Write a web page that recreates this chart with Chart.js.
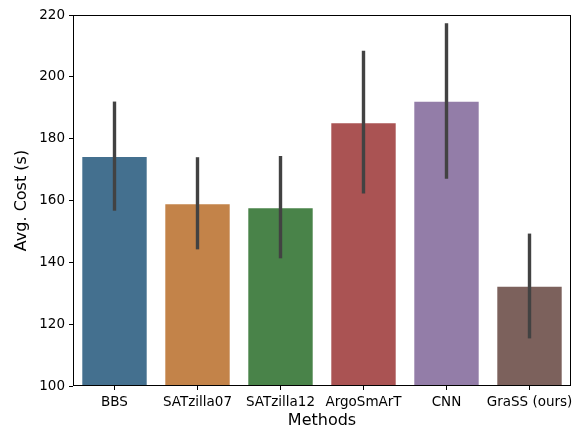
<!DOCTYPE html>
<html>
<head>
<meta charset="utf-8">
<script src="https://cdn.jsdelivr.net/npm/chart.js@4/dist/chart.umd.min.js"></script>
<style>
  html, body { margin: 0; padding: 0; background: #fff; }
  #wrap { width: 579px; height: 429px; position: relative; }
</style>
</head>
<body>
<div id="wrap"><canvas id="cost-chart"></canvas></div>
<script>
// values
var methods = ['BBS', 'SATzilla07', 'SATzilla12', 'ArgoSmArT', 'CNN', 'GraSS (ours)'];
var avgCost = [174.4, 159.1, 157.8, 185.3, 192.3, 132.4];
var ciLow = [156.7, 144.2, 141.3, 162.3, 167.0, 115.4];
var ciHigh = [192.0, 174.0, 174.4, 208.4, 217.3, 149.3];
var yTicks = [100, 120, 140, 160, 180, 200, 220];

var barColors = ['#44708f', '#c38349', '#498349', '#aa5353', '#937da8', '#7c615c'];

var FONT = 'DejaVu Sans';

var errorBars = {
  id: 'errorBars',
  afterDatasetsDraw: function (chart) {
    var ctx = chart.ctx;
    var y = chart.scales.y;
    var meta = chart.getDatasetMeta(0);
    ctx.save();
    ctx.strokeStyle = '#424242';
    ctx.lineWidth = 3.4;
    meta.data.forEach(function (bar, i) {
      ctx.beginPath();
      ctx.moveTo(bar.x, y.getPixelForValue(ciLow[i]));
      ctx.lineTo(bar.x, y.getPixelForValue(ciHigh[i]));
      ctx.stroke();
    });
    ctx.restore();
  }
};

var frame = {
  id: 'frame',
  afterDraw: function (chart) {
    var a = chart.chartArea;
    var ctx = chart.ctx;
    ctx.save();
    ctx.strokeStyle = '#000';
    ctx.lineWidth = 1;
    ctx.strokeRect(Math.round(a.left) + 0.5, Math.round(a.top) + 0.5,
      Math.round(a.right - a.left) - 1, Math.round(a.bottom - a.top) - 1);
    ctx.restore();
  }
};

new Chart(document.getElementById('cost-chart'), {
  type: 'bar',
  data: {
    labels: methods,
    datasets: [{
      data: avgCost,
      backgroundColor: barColors,
      borderColor: 'rgba(255,255,255,0.25)',
      borderWidth: 1,
      barPercentage: 0.8,
      categoryPercentage: 1.0
    }]
  },
  options: {
    responsive: true,
    maintainAspectRatio: false,
    animation: false,
    layout: { padding: { top: 15, right: 8, left: 0, bottom: 0 } },
    plugins: { legend: { display: false }, tooltip: { enabled: false } },
    scales: {
      x: {
        afterFit: function (s) { s.height = 43; },
        grid: { drawOnChartArea: false, offset: false, tickLength: 4, tickColor: '#000' },
        border: { display: false },
        ticks: { color: '#000', font: { family: FONT, size: 13.5 }, padding: 4, maxRotation: 0, autoSkip: false },
        title: { display: true, text: 'Methods', color: '#000', font: { family: FONT, size: 16, lineHeight: 1.0 }, padding: { top: 0, bottom: 0 } }
      },
      y: {
        min: 100,
        max: 220,
        afterFit: function (s) { s.width = 73; },
        afterBuildTicks: function (s) { s.ticks = yTicks.map(function (v) { return { value: v }; }); },
        grid: { drawOnChartArea: false, tickLength: 4, tickColor: '#000' },
        border: { display: false },
        ticks: { color: '#000', font: { family: FONT, size: 13.5 }, padding: 4 },
        title: { display: true, text: 'Avg. Cost (s)', color: '#000', font: { family: FONT, size: 16 }, padding: { top: 12, bottom: 4 } }
      }
    }
  },
  plugins: [errorBars, frame]
});
</script>
</body>
</html>
